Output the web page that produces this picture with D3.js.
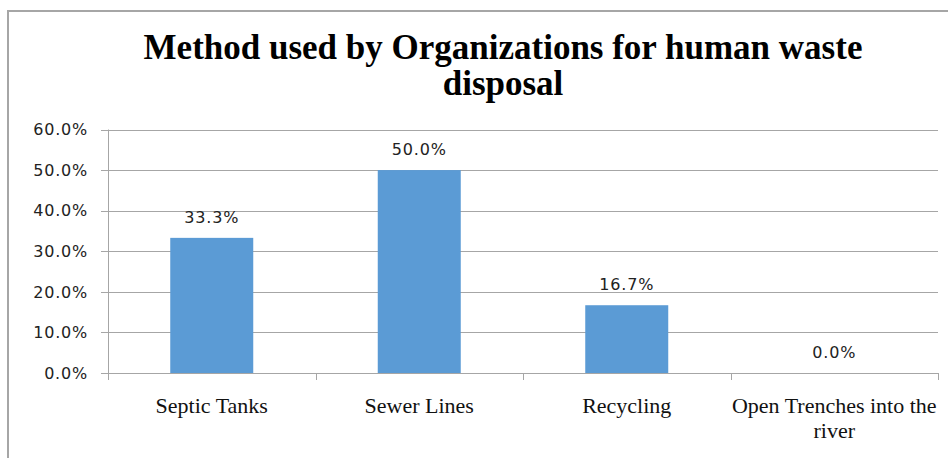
<!DOCTYPE html>
<html><head><meta charset="utf-8">
<script src="https://cdn.jsdelivr.net/npm/d3@7"></script>
<style>body{margin:0;background:#fff}svg{display:block}</style>
</head><body>
<svg id="c" width="948" height="458"></svg>
<script>
const categories = ["Septic Tanks", "Sewer Lines", "Recycling", "Open Trenches into the river"];
const values = [33.3, 50.0, 16.7, 0.0];
const yTicks = [0, 10, 20, 30, 40, 50, 60];
const titleLines = ["Method used by Organizations for human waste", "disposal"];

const svg = d3.select("#c");
const W = 948, H = 458;

svg.append("rect").attr("x", 8).attr("y", 11).attr("width", W).attr("height", H)
  .attr("fill", "#fff").attr("stroke", "#a6a6a6").attr("stroke-width", 2);

const x = d3.scaleBand().domain(categories).range([108, 938]).paddingInner(0.6).paddingOuter(0.3);
const xCat = d3.scaleBand().domain(categories).range([108, 938]);
const y = d3.scaleLinear().domain([0, 60]).range([373, 129.5]);

// gridlines
svg.append("g").selectAll("line").data(yTicks).join("line")
  .attr("x1", 101).attr("x2", 938)
  .attr("y1", d => Math.round(y(d)) + 0.5).attr("y2", d => Math.round(y(d)) + 0.5)
  .attr("stroke", "#a6a6a6").attr("stroke-width", 1);

// y axis line
svg.append("line").attr("x1", 108.5).attr("x2", 108.5).attr("y1", y(60)).attr("y2", y(0))
  .attr("stroke", "#a6a6a6");

// y tick labels
svg.append("g").selectAll("text").data(yTicks).join("text")
  .attr("x", 88).attr("y", d => y(d))
  .attr("dy", "0.36em").attr("text-anchor", "end")
  .attr("font-family", "DejaVu Sans").attr("font-size", 16).attr("letter-spacing", 0.8).attr("fill", "#222")
  .text(d => d3.format(".1f")(d) + "%");

// bars
svg.append("g").selectAll("rect").data(values).join("rect")
  .attr("x", (d, i) => x(categories[i]))
  .attr("width", x.bandwidth())
  .attr("y", d => y(d))
  .attr("height", d => y(0) - y(d))
  .attr("fill", "#5b9bd5");

// x category ticks
const catEdges = categories.map(c => xCat(c)).concat([938]);
svg.append("g").selectAll("line").data(catEdges).join("line")
  .attr("x1", d => Math.round(d) + 0.5).attr("x2", d => Math.round(d) + 0.5)
  .attr("y1", 373).attr("y2", 380).attr("stroke", "#a6a6a6");

// data labels
svg.append("g").selectAll("text").data(values).join("text")
  .attr("x", (d, i) => x(categories[i]) + x.bandwidth() / 2)
  .attr("y", d => y(d) - 15)
  .attr("text-anchor", "middle")
  .attr("font-family", "DejaVu Sans").attr("font-size", 16).attr("letter-spacing", 0.8).attr("fill", "#222")
  .text(d => d3.format(".1f")(d) + "%");

// category labels
const catLines = [["Septic Tanks"], ["Sewer Lines"], ["Recycling"], ["Open Trenches into the", "river"]];
categories.forEach((c, i) => {
  const cx = xCat(c) + xCat.bandwidth() / 2;
  const t = svg.append("text")
    .attr("x", cx).attr("y", 413)
    .attr("text-anchor", "middle")
    .attr("font-family", "Liberation Serif").attr("font-size", 22).attr("fill", "#111");
  catLines[i].forEach((l, j) => {
    t.append("tspan").attr("x", cx).attr("dy", j === 0 ? 0 : 25).text(l);
  });
});

// title
const tt = svg.append("text").attr("text-anchor", "middle")
  .attr("font-family", "Liberation Serif").attr("font-weight", "bold")
  .attr("font-size", 35).attr("fill", "#000");
titleLines.forEach((l, j) => {
  tt.append("tspan").attr("x", 503).attr("y", 59 + j * 36).text(l);
});
</script>
</body></html>
